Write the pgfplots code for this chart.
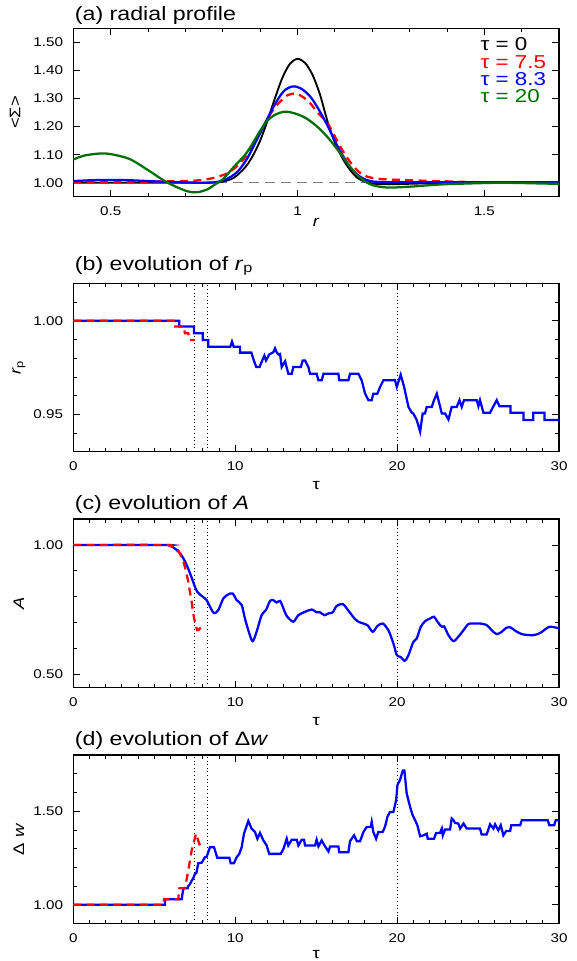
\documentclass[border=0pt]{standalone}
\usepackage{pgfplots}
\pgfplotsset{compat=1.18}
\usepackage{fontspec}
\setmainfont{Liberation Sans}[FakeStretch=1.2]
\definecolor{cgreen}{RGB}{0,110,0}
\definecolor{cblue}{RGB}{0,0,255}
\definecolor{cred}{RGB}{255,0,0}
\pgfplotsset{
  pan/.style={
    scale only axis, width=364.3pt, height=126.4pt,
    anchor=north west,
    axis line style={line width=0.9pt},
    every tick/.style={black, line width=0.6pt},
    major tick length=5pt, minor tick length=3pt,
    tick align=inside,
    clip mode=individual,
    xticklabel style={font=\fontsize{9.5}{11}\selectfont, anchor=base, yshift=-14pt, inner sep=0pt},
    yticklabel style={font=\fontsize{9.5}{11}\selectfont, anchor=east, xshift=-7.5pt, inner sep=0pt},
    xlabel style={font=\fontsize{11.5}{13}\selectfont, at={(axis description cs:0.5,0)}, anchor=base, yshift=-28.5pt, inner sep=0pt},
    ylabel style={font=\fontsize{11.5}{13}\selectfont, at={(axis description cs:-0.112,0.5)}, anchor=center, inner sep=0pt},
  },
  tau/.style={xmin=0, xmax=30, xtick={0,10,20,30}, xticklabels={0,10,20,30}, minor x tick num=9, xlabel={τ}},
  vline/.style={black, dotted, line width=0.7pt, forget plot},
  cb/.style={cblue, line width=1.7pt},
  cr/.style={cred, line width=1.7pt, dash pattern=on 6pt off 4pt},
}
\newcommand{\ptitle}[2]{\node[anchor=base west, font=\fontsize{14.5}{17}\selectfont, inner sep=0pt] at (rel axis cs:0,1) [yshift=#1, xshift=1pt] {#2};}
\begin{document}
\begin{tikzpicture}
\useasboundingbox (0,0) rectangle (432pt,-720.75pt);
% ---------------- (a)
\begin{axis}[pan, at={(54.98pt,-21.2pt)},
  xmin=0.4, xmax=1.7, ymin=0.95, ymax=1.55,
  xtick={0.5,1,1.5}, xticklabels={0.5,1,1.5},
  minor xtick={0.4,0.6,0.7,0.8,0.9,1.1,1.2,1.3,1.4,1.6,1.7},
  ytick={1.0,1.1,1.2,1.3,1.4,1.5}, yticklabels={1.00,1.10,1.20,1.30,1.40,1.50},
  xlabel={\textit{r}}, xlabel style={yshift=6pt},
  ylabel={<Σ>}, ylabel style={at={(axis description cs:-0.12,0.5)}},
  ]
\addplot[gray, line width=0.9pt, dash pattern=on 7pt off 5pt] coordinates {(0.4,1.0)(1.7,1.0)};
\addplot[black, line width=1.4pt, smooth] coordinates {
(0.40,1.000)(0.70,1.000)(0.78,1.001)(0.80,1.004)(0.83,1.018)(0.86,1.055)(0.88,1.095)(0.90,1.150)(0.92,1.222)(0.94,1.302)(0.96,1.375)(0.98,1.424)(1.00,1.441)(1.02,1.427)(1.04,1.385)(1.06,1.315)(1.08,1.220)(1.10,1.143)(1.12,1.088)(1.14,1.047)(1.16,1.018)(1.18,1.004)(1.21,0.996)(1.26,0.995)(1.32,0.997)(1.40,0.999)(1.70,1.000)};
\addplot[cr, smooth] coordinates {
(0.40,1.003)(0.50,1.003)(0.60,1.004)(0.65,1.005)(0.70,1.006)(0.721,1.007)(0.75,1.011)(0.775,1.017)(0.795,1.025)(0.811,1.033)(0.83,1.05)(0.846,1.069)(0.865,1.10)(0.882,1.14)(0.90,1.18)(0.918,1.224)(0.93,1.25)(0.945,1.277)(0.96,1.297)(0.971,1.31)(0.987,1.317)(1.00,1.315)(1.015,1.305)(1.034,1.283)(1.055,1.248)(1.079,1.215)(1.096,1.175)(1.114,1.13)(1.13,1.095)(1.15,1.058)(1.168,1.035)(1.186,1.022)(1.21,1.015)(1.239,1.012)(1.30,1.009)(1.346,1.007)(1.40,1.005)(1.48,1.002)(1.55,1.001)(1.70,1.001)};
\addplot[cb, smooth] coordinates {
(0.40,1.006)(0.45,1.009)(0.50,1.010)(0.55,1.009)(0.60,1.006)(0.65,1.003)(0.70,1.001)(0.75,1.000)(0.78,1.002)(0.80,1.008)(0.82,1.020)(0.84,1.040)(0.86,1.075)(0.873,1.105)(0.89,1.15)(0.909,1.20)(0.936,1.271)(0.9625,1.325)(0.987,1.343)(1.01,1.335)(1.034,1.307)(1.055,1.265)(1.079,1.207)(1.096,1.16)(1.114,1.113)(1.128,1.082)(1.141,1.055)(1.155,1.036)(1.168,1.021)(1.185,1.010)(1.204,1.004)(1.25,1.002)(1.40,1.002)(1.70,1.002)};
\addplot[cgreen, line width=1.7pt, smooth] coordinates {
(0.40,1.083)(0.43,1.097)(0.47,1.104)(0.50,1.102)(0.55,1.085)(0.60,1.045)(0.65,1.002)(0.70,0.972)(0.73,0.966)(0.76,0.977)(0.78,0.995)(0.80,1.012)(0.83,1.057)(0.86,1.100)(0.88,1.14)(0.90,1.185)(0.92,1.222)(0.94,1.242)(0.965,1.253)(0.99,1.248)(1.02,1.232)(1.05,1.203)(1.08,1.163)(1.11,1.113)(1.14,1.058)(1.17,1.015)(1.20,0.992)(1.24,0.983)(1.30,0.986)(1.35,0.991)(1.40,0.995)(1.50,0.999)(1.55,1.000)(1.60,0.999)(1.70,0.996)};
\ptitle{6pt}{(a) radial profile}
\node[anchor=north west, align=left, font=\fontsize{14}{12.9}\selectfont, inner sep=0pt] at (rel axis cs:0.838,0.945)
 {\textcolor{black}{τ = 0}\\ \textcolor{cred}{τ = 7.5}\\ \textcolor{cblue}{τ = 8.3}\\ \textcolor{cgreen}{τ = 20}};
\end{axis}
% ---------------- (b)
\begin{axis}[pan, tau, at={(54.98pt,-212.5pt)},
  ymin=0.93, ymax=1.02, ytick={0.95,1.0}, yticklabels={0.95,1.00},
  minor ytick={0.93,0.94,0.96,0.97,0.98,0.99,1.01,1.02},
  ylabel={\textit{r}\textsubscript{p}},
  ]
\addplot[vline] coordinates {(7.5,0.93)(7.5,1.02)};
\addplot[vline] coordinates {(8.3,0.93)(8.3,1.02)};
\addplot[vline] coordinates {(20,0.93)(20,1.02)};
\addplot[cb] coordinates {
(0,1.0)(6.55,1.0)(6.55,0.997)(7.45,0.997)(7.45,0.9933)(8.0,0.9933)(8.0,0.9897)(8.34,0.9897)(8.34,0.9862)(9.7,0.9862)(9.8,0.9889)(9.9,0.9862)(10.3,0.9862)(10.3,0.983)(11.0,0.983)(11.15,0.9788)(11.3,0.9753)(11.5,0.9753)(11.67,0.9788)(11.8,0.9814)(11.9,0.9788)(12.1,0.982)(12.35,0.9832)(12.46,0.9853)(12.56,0.9832)(12.67,0.982)(12.77,0.9823)(12.87,0.9753)(13.08,0.9784)(13.28,0.9717)(13.49,0.9717)(13.59,0.9753)(14.05,0.9753)(14.17,0.9788)(14.31,0.9788)(14.52,0.9753)(14.62,0.9717)(15.03,0.9717)(15.14,0.9682)(15.34,0.9682)(15.45,0.9717)(16.37,0.9717)(16.43,0.9682)(16.99,0.9682)(17.09,0.9717)(17.61,0.9717)(17.81,0.9682)(18.02,0.9611)(18.23,0.9576)(18.43,0.9576)(18.53,0.9611)(18.78,0.9611)(18.95,0.9647)(19.15,0.9682)(19.87,0.9682)(19.98,0.9647)(20.22,0.9712)(20.43,0.9647)(20.7,0.954)(20.9,0.951)(21.0,0.9505)(21.21,0.947)(21.42,0.9408)(21.58,0.9505)(21.72,0.9505)(21.83,0.954)(22.14,0.954)(22.28,0.9576)(22.45,0.9611)(22.76,0.9505)(22.96,0.9505)(23.17,0.9473)(23.37,0.954)(23.68,0.954)(23.85,0.9576)(23.99,0.954)(24.13,0.9576)(24.92,0.9576)(25.02,0.9544)(25.12,0.9576)(25.33,0.9509)(25.74,0.9509)(25.95,0.9544)(26.15,0.9576)(26.32,0.9544)(27.0,0.9544)(27.0,0.9509)(27.8,0.9509)(27.8,0.947)(28.4,0.947)(28.4,0.9509)(29.1,0.9509)(29.1,0.947)(30,0.947)};
\addplot[cr] coordinates {(0,1.0)(6.3,1.0)(6.3,0.997)(6.8,0.997)(6.9,0.9933)(7.1,0.9933)(7.2,0.9897)(7.5,0.9897)};
\ptitle{10pt}{(b) evolution of \textit{r}\textsubscript{p}}
\end{axis}
% ---------------- (c)
\begin{axis}[pan, tau, at={(54.98pt,-389.25pt)},
  ymin=0.45, ymax=1.1, ytick={0.5,1.0}, yticklabels={0.50,1.00},
  minor ytick={0.6,0.7,0.8,0.9},
  ylabel={\textit{A}},
  ]
\addplot[vline] coordinates {(7.5,0.45)(7.5,1.1)};
\addplot[vline] coordinates {(8.3,0.45)(8.3,1.1)};
\addplot[vline] coordinates {(20,0.45)(20,1.1)};
\addplot[cb, smooth] coordinates {
(0,1)(5.56,1.0)(5.9,0.998)(6.18,0.99)(6.4,0.98)(6.59,0.968)(6.8,0.948)(7.0,0.923)(7.15,0.9)(7.31,0.874)(7.51,0.839)(7.65,0.82)(7.82,0.809)(8.0,0.80)(8.24,0.787)(8.44,0.762)(8.69,0.737)(8.96,0.749)(9.27,0.794)(9.57,0.809)(9.84,0.813)(10.09,0.787)(10.4,0.768)(10.6,0.716)(10.87,0.659)(11.08,0.629)(11.32,0.665)(11.63,0.729)(11.9,0.749)(12.15,0.784)(12.35,0.787)(12.56,0.778)(12.77,0.784)(12.98,0.755)(13.18,0.726)(13.59,0.704)(13.9,0.729)(14.31,0.742)(14.73,0.751)(15.03,0.74)(15.24,0.74)(15.51,0.729)(15.76,0.736)(16.02,0.74)(16.27,0.765)(16.64,0.772)(16.89,0.755)(17.4,0.714)(17.71,0.701)(18.16,0.691)(18.49,0.665)(18.78,0.687)(19.11,0.697)(19.46,0.671)(19.77,0.62)(19.98,0.575)(20.22,0.568)(20.47,0.553)(20.7,0.575)(21.0,0.626)(21.21,0.639)(21.46,0.684)(21.73,0.706)(22.03,0.716)(22.28,0.723)(22.49,0.704)(22.76,0.684)(22.9,0.686)(23.17,0.652)(23.48,0.629)(23.78,0.646)(24.1,0.671)(24.4,0.695)(24.71,0.697)(25.12,0.697)(25.53,0.691)(25.84,0.671)(26.15,0.656)(26.46,0.665)(26.73,0.68)(27.0,0.682)(27.25,0.671)(27.7,0.656)(28.4,0.652)(28.85,0.661)(29.4,0.684)(30,0.678)};
\addplot[cr, smooth] coordinates {(0,1.0)(5.5,1.0)(6.0,0.996)(6.38,0.987)(6.6,0.965)(6.8,0.936)(6.95,0.9)(7.1,0.858)(7.2,0.82)(7.31,0.781)(7.4,0.74)(7.51,0.704)(7.66,0.671)(7.82,0.678)(8.03,0.697)};
\ptitle{7pt}{(c) evolution of \textit{A}}
\end{axis}
% ---------------- (d)
\begin{axis}[pan, tau, at={(54.98pt,-566.25pt)},
  ymin=0.9, ymax=1.8, ytick={1.0,1.5}, yticklabels={1.00,1.50},
  minor ytick={1.1,1.2,1.3,1.4,1.6,1.7},
  ylabel={Δ \textit{w}}, xlabel style={yshift=2.5pt},
  ]
\addplot[vline] coordinates {(7.5,0.9)(7.5,1.8)};
\addplot[vline] coordinates {(8.3,0.9)(8.3,1.8)};
\addplot[vline] coordinates {(20,0.9)(20,1.8)};
\addplot[cb] coordinates {
(0,1)(5.66,1)(5.66,1.03)(6.69,1.03)(6.8,1.088)(7.06,1.088)(7.1,1.10)(7.2,1.11)(7.31,1.129)(7.4,1.14)(7.51,1.165)(7.6,1.17)(7.72,1.222)(7.93,1.225)(8.13,1.254)(8.24,1.257)(8.44,1.308)(8.69,1.308)(8.89,1.251)(9.64,1.251)(9.72,1.222)(9.92,1.222)(10.09,1.254)(10.25,1.272)(10.4,1.308)(10.54,1.38)(10.81,1.448)(11.01,1.407)(11.22,1.389)(11.37,1.353)(11.53,1.384)(11.74,1.344)(11.94,1.317)(12.1,1.272)(12.81,1.272)(12.98,1.299)(13.18,1.353)(13.28,1.317)(13.49,1.348)(13.8,1.348)(13.9,1.317)(14.11,1.348)(14.25,1.348)(14.31,1.317)(14.93,1.317)(15.03,1.348)(15.14,1.312)(15.34,1.344)(15.55,1.312)(15.76,1.285)(15.86,1.312)(16.37,1.312)(16.43,1.281)(16.99,1.281)(17.09,1.34)(17.34,1.371)(17.51,1.34)(17.71,1.34)(17.92,1.389)(18.12,1.416)(18.37,1.416)(18.43,1.443)(18.53,1.389)(18.7,1.353)(18.84,1.389)(19.11,1.389)(19.26,1.419)(19.4,1.47)(19.56,1.496)(19.77,1.496)(19.94,1.559)(20.02,1.64)(20.18,1.667)(20.35,1.717)(20.45,1.717)(20.59,1.595)(20.8,1.523)(20.96,1.478)(21.11,1.452)(21.25,1.425)(21.42,1.366)(21.62,1.371)(21.83,1.38)(21.89,1.353)(22.28,1.353)(22.41,1.384)(22.65,1.384)(22.76,1.407)(22.82,1.371)(22.96,1.402)(23.27,1.402)(23.37,1.461)(23.48,1.452)(23.58,1.437)(23.78,1.434)(23.89,1.407)(24.1,1.434)(24.3,1.407)(25.12,1.407)(25.22,1.376)(25.53,1.376)(25.74,1.43)(25.95,1.407)(26.05,1.43)(26.25,1.398)(26.4,1.425)(26.56,1.371)(26.73,1.394)(26.98,1.394)(27.05,1.425)(27.6,1.425)(27.7,1.452)(29.3,1.452)(29.4,1.425)(29.7,1.425)(29.8,1.452)(30,1.452)};
\addplot[cr] coordinates {(0,1)(5.56,1)(5.6,1.03)(6.48,1.03)(6.55,1.088)(6.9,1.088)(7.1,1.183)(7.31,1.29)(7.58,1.38)(7.78,1.326)(7.93,1.299)};
\ptitle{7pt}{(d) evolution of Δ\textit{w}}
\end{axis}
\end{tikzpicture}
\end{document}
